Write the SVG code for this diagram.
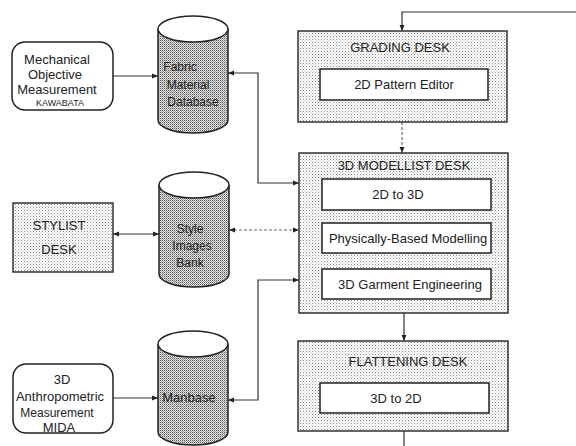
<svg xmlns="http://www.w3.org/2000/svg" width="576" height="446" viewBox="0 0 576 446">
<defs>
<pattern id="deskDots" width="3" height="3" patternUnits="userSpaceOnUse">
<rect width="3" height="3" fill="#ffffff"/>
<rect x="0" y="0" width="1" height="1" fill="#8a8a8a"/>
<rect x="1.5" y="1.5" width="1" height="1" fill="#b0b0b0"/>
</pattern>
<pattern id="cylDots" width="2" height="2" patternUnits="userSpaceOnUse">
<rect width="2" height="2" fill="#e6e6e6"/>
<rect x="0" y="0" width="1" height="1" fill="#555"/>
<rect x="1" y="1" width="1" height="1" fill="#999"/>
</pattern>
<marker id="arr" viewBox="0 0 10 10" refX="10" refY="5" markerWidth="6" markerHeight="6" orient="auto-start-reverse" markerUnits="userSpaceOnUse">
<path d="M0,1 L10,5 L0,9 Z" fill="#222"/>
</marker>
</defs>
<style>
text{font-family:"Liberation Sans",Arial,sans-serif;fill:#222;font-size:13px;text-anchor:middle}
.desk{fill:url(#deskDots);stroke:#333;stroke-width:1.5}
.inner{fill:#fff;stroke:#222;stroke-width:1.5}
.rnd{fill:#fff;stroke:#222;stroke-width:1.5}
.cyl{fill:url(#cylDots);stroke:#222;stroke-width:1.5}
.top{fill:#fff;stroke:#222;stroke-width:1.5}
.conn{fill:none;stroke:#333;stroke-width:1.2}
.dash{stroke-dasharray:3 2;stroke:#666}
.small{font-size:9px}
.cy{font-size:12px}
</style>
<rect width="576" height="446" fill="#fff"/>

<g id="connectors">
<path class="conn" d="M113,76 H158" marker-end="url(#arr)"/>
<path class="conn" d="M228,73 H258 V183 H299" marker-start="url(#arr)" marker-end="url(#arr)"/>
<path class="conn" d="M113,234 H159" marker-start="url(#arr)" marker-end="url(#arr)"/>
<path class="conn dash" d="M229,230 H299" marker-start="url(#arr)" marker-end="url(#arr)"/>
<path class="conn" d="M113,398 H158" marker-end="url(#arr)"/>
<path class="conn" d="M228,400 H258 V280 H299" marker-start="url(#arr)" marker-end="url(#arr)"/>
<path class="conn" d="M576,12 H402 V31" marker-end="url(#arr)"/>
<path class="conn dash" d="M402,122 V153" marker-end="url(#arr)"/>
<path class="conn" d="M404,313 V341" marker-end="url(#arr)"/>
<path class="conn" d="M404,431 V446"/>
</g>

<g id="mechanical">
<rect class="rnd" x="12" y="42" width="101" height="68" rx="13" ry="13"/>
<text x="57" y="64">Mechanical</text>
<text x="55" y="79">Objective</text>
<text x="57" y="94">Measurement</text>
<text class="small" x="60" y="106">KAWABATA</text>
</g>

<g id="fabric-db">
<path class="cyl" d="M158,29 V120 A35,13 0 0 0 228,120 V29"/>
<ellipse class="top" cx="193" cy="29" rx="35" ry="13"/>
<text class="cy" x="180" y="71">Fabric</text>
<text class="cy" x="188" y="89">Material</text>
<text class="cy" x="193" y="106">Database</text>
</g>

<g id="stylist">
<rect class="desk" x="13" y="203" width="100" height="69"/>
<text x="59" y="230">STYLIST</text>
<text x="59" y="254">DESK</text>
</g>

<g id="style-bank">
<path class="cyl" d="M159,185 V274 A35,13 0 0 0 229,274 V185"/>
<ellipse class="top" cx="194" cy="185" rx="35" ry="13"/>
<text class="cy" x="190" y="233">Style</text>
<text class="cy" x="192" y="250">Images</text>
<text class="cy" x="190" y="267">Bank</text>
</g>

<g id="anthropometric">
<rect class="rnd" x="13" y="364" width="100" height="69" rx="13" ry="13"/>
<text x="62" y="384">3D</text>
<text x="60" y="401">Anthropometric</text>
<text x="57" y="417" style="font-size:12px">Measurement</text>
<text x="59" y="432">MIDA</text>
</g>

<g id="manbase">
<path class="cyl" d="M158,344 V432 A35,13 0 0 0 228,432 V344"/>
<ellipse class="top" cx="193" cy="344" rx="35" ry="13"/>
<text x="189" y="402">Manbase</text>
</g>

<g id="grading">
<rect class="desk" x="298" y="31" width="209" height="91"/>
<text x="400" y="52">GRADING DESK</text>
<rect class="inner" x="320" y="69" width="168" height="31"/>
<text x="404" y="89">2D Pattern Editor</text>
</g>

<g id="modellist">
<rect class="desk" x="299" y="153" width="209" height="160"/>
<text x="404" y="170">3D MODELLIST DESK</text>
<rect class="inner" x="322" y="179" width="169" height="31"/>
<text x="398" y="199">2D to 3D</text>
<rect class="inner" x="322" y="223" width="169" height="30"/>
<text x="408" y="243">Physically-Based Modelling</text>
<rect class="inner" x="322" y="269" width="169" height="30"/>
<text x="410" y="289">3D Garment Engineering</text>
</g>

<g id="flattening">
<rect class="desk" x="298" y="341" width="210" height="90"/>
<text x="408" y="366">FLATTENING DESK</text>
<rect class="inner" x="320" y="383" width="169" height="30"/>
<text x="396" y="403">3D to 2D</text>
</g>
</svg>
